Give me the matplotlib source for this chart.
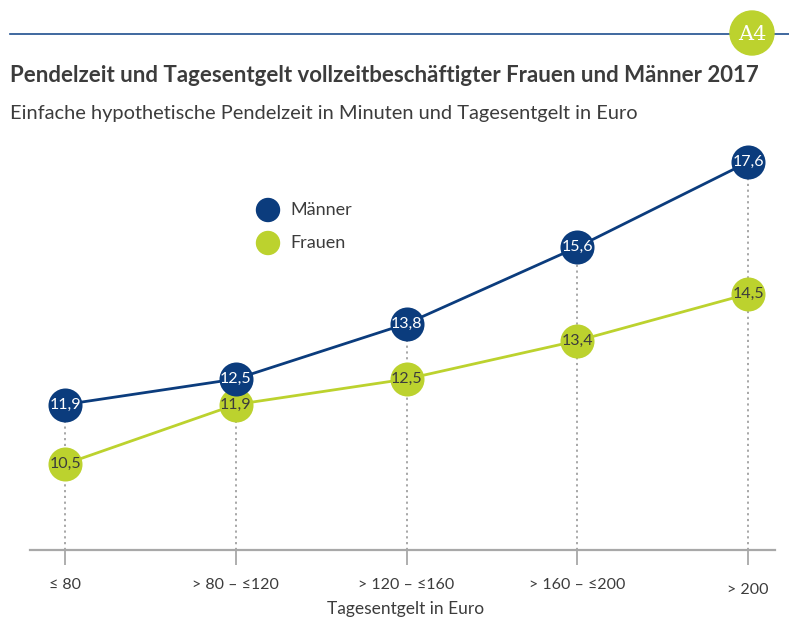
import numpy as np
import matplotlib.pyplot as plt
from matplotlib.patches import Ellipse
from matplotlib.lines import Line2D
from matplotlib.transforms import ScaledTranslation

plt.rcParams['font.family'] = ['Lato', 'DejaVu Sans']

categories = ['≤ 80', '> 80 – ≤120', '> 120 – ≤160', '> 160 – ≤200', '> 200']
maenner = [11.9, 12.5, 13.8, 15.6, 17.6]
frauen = [10.5, 11.9, 12.5, 13.4, 14.5]

navy = '#0b3c7d'
lime = '#bcd22e'
grey_text = '#3c3c3c'

W, H = 789, 619
fig = plt.figure(figsize=(W / 100, H / 100), dpi=100)


def dot(cx, cy, r, color, z=2):
    # round dot placed in pixel coordinates (from top-left)
    fig.add_artist(Ellipse((cx / W, 1 - cy / H), 2 * r / W, 2 * r / H, color=color,
                           transform=fig.transFigure, zorder=z))


# header rule with badge
fig.add_artist(Line2D([10 / W, 1], [1 - 34 / H, 1 - 34 / H], color='#1f4f8f', lw=1.2, zorder=1))
dot(752, 33, 22, lime, z=3)
fig.text(752 / W, 1 - 34 / H, 'A4', family='DejaVu Serif', color='white',
         fontsize=15, ha='center', va='center', zorder=4)

fig.text(10 / W, 1 - 75 / H, 'Pendelzeit und Tagesentgelt vollzeitbeschäftigter Frauen und Männer 2017',
         fontsize=16, fontweight='bold', color=grey_text, va='center')
fig.text(10 / W, 1 - 113 / H, 'Einfache hypothetische Pendelzeit in Minuten und Tagesentgelt in Euro',
         fontsize=14.4, color=grey_text, va='center')

ax = fig.add_axes([30 / W, 69 / H, 745 / W, 410 / H])
x = np.arange(len(categories))
ax.set_xlim(-0.205, 4.158)
ax.set_ylim(8.48, 18.12)

for i in x:
    ax.plot([i, i], [8.48, max(maenner[i], frauen[i])], color='#a0a0a0', lw=1.3,
            ls=(0, (1.2, 2)), zorder=1)

ax.plot(x, maenner, color=navy, lw=2, marker='o', ms=24.5, mfc=navy, mec='none', zorder=3)
ax.plot(x, frauen, color=lime, lw=2, marker='o', ms=24.5, mfc=lime, mec='none', zorder=2)

for i in x:
    ax.text(i, maenner[i], f'{maenner[i]:.1f}'.replace('.', ','), ha='center', va='center',
            color='white', fontsize=11.5, zorder=4)
    ax.text(i, frauen[i], f'{frauen[i]:.1f}'.replace('.', ','), ha='center', va='center',
            color=grey_text, fontsize=11.5, zorder=4)

for s in ['top', 'right', 'left']:
    ax.spines[s].set_visible(False)
ax.spines['bottom'].set_color('#a8a8a8')
ax.spines['bottom'].set_linewidth(1.6)
ax.set_yticks([])
ax.set_xticks(x)
ax.set_xticklabels(categories, fontsize=11.5, color=grey_text)
ax.tick_params(axis='x', length=11, width=1.3, color='#a8a8a8', pad=9)
# last label sits a little lower in the original
last = ax.get_xticklabels()[-1]
last.set_transform(last.get_transform() + ScaledTranslation(0, -0.05, fig.dpi_scale_trans))
fig.text(406 / W, 1 - 609 / H, 'Tagesentgelt in Euro', fontsize=12.5, color=grey_text,
         ha='center', va='center')
ax.patch.set_alpha(0)

# legend
dot(268, 210, 11.5, navy)
dot(268, 243, 11.5, lime)
fig.text(290 / W, 1 - 210 / H, 'Männer', fontsize=13, color=grey_text, va='center')
fig.text(290 / W, 1 - 243 / H, 'Frauen', fontsize=13, color=grey_text, va='center')

fig.savefig('out.png', dpi=100)
